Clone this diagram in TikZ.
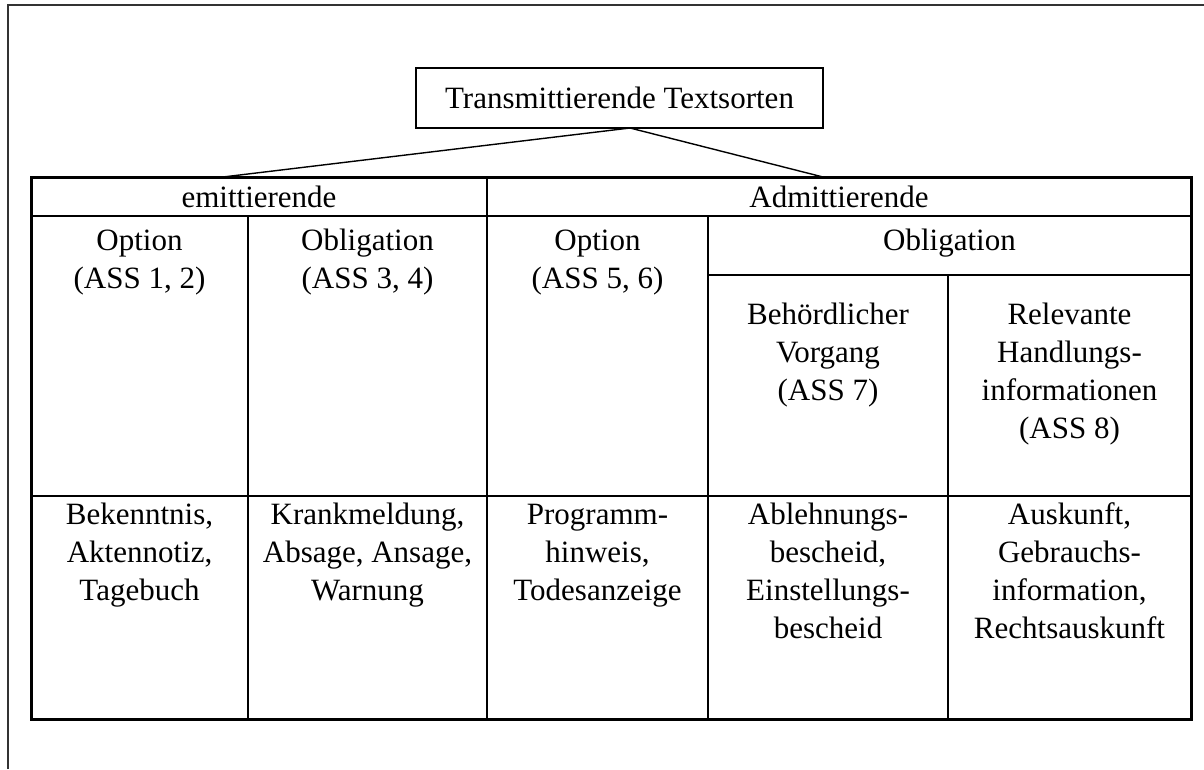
\documentclass[tikz,border=0pt]{standalone}
\usepackage{fontspec}
\setmainfont{Liberation Serif}
\begin{document}
\begin{tikzpicture}[x=1pt,y=-1pt,
  cell/.style={anchor=north, align=center, inner sep=0pt, font=\fontsize{31}{38}\selectfont},
  outer/.style={line width=1.3pt, draw=black!80},
  thick border/.style={line width=3pt},
  grid line/.style={line width=2pt},
  connector/.style={line width=1.4pt}]
\useasboundingbox (0,0) rectangle (1204,769);
% outer frame (only top and left visible)
\draw[outer] (8,769) -- (8,5) -- (1204,5);
% title
\node[draw, line width=1.5pt, minimum width=407pt, minimum height=60pt, inner sep=0pt,
      font=\fontsize{31}{38}\selectfont] (title) at (619.5,98) {Transmittierende Textsorten};
\coordinate (apex) at (630,128);
\coordinate (lend) at (223,177);
\coordinate (rend) at (823,177);
\draw[connector] (lend) -- (apex) -- (rend);
% table lines
\draw[grid line] (31,216) -- (1191,216);
\draw[grid line] (708,275) -- (1191,275);
\draw[grid line] (31,496) -- (1191,496);
\draw[grid line] (487,177) -- (487,719);
\draw[grid line] (248,216) -- (248,719);
\draw[grid line] (708,216) -- (708,719);
\draw[grid line] (948,275) -- (948,719);
\draw[thick border] (31,177) rectangle (1191,719);
% texts
\node[cell] (emit) at (259,181) {\strut emittierende};
\node[cell] (admit) at (839,181) {\strut Admittierende};
\node[cell] (opt1) at (139.5,224) {\strut Option\\(ASS 1, 2)};
\node[cell] (obl1) at (367.5,224) {\strut Obligation\\(ASS 3, 4)};
\node[cell] (opt2) at (597.5,224) {\strut Option\\(ASS 5, 6)};
\node[cell] (obl2) at (949.5,224) {\strut Obligation};
\node[cell] (beh) at (828,298) {\strut Behördlicher\\Vorgang\\(ASS 7)};
\node[cell] (rel) at (1069.5,298) {\strut Relevante\\Handlungs-\\informationen\\(ASS 8)};
\node[cell] (b1) at (139.5,498) {\strut Bekenntnis,\\Aktennotiz,\\Tagebuch};
\node[cell] (b2) at (367.5,498) {\strut Krankmeldung,\\Absage, Ansage,\\Warnung};
\node[cell] (b3) at (597.5,498) {\strut Programm-\\hinweis,\\Todesanzeige};
\node[cell] (b4) at (828,498) {\strut Ablehnungs-\\bescheid,\\Einstellungs-\\bescheid};
\node[cell] (b5) at (1069.5,498) {\strut Auskunft,\\Gebrauchs-\\information,\\Rechtsauskunft};
\end{tikzpicture}
\end{document}
